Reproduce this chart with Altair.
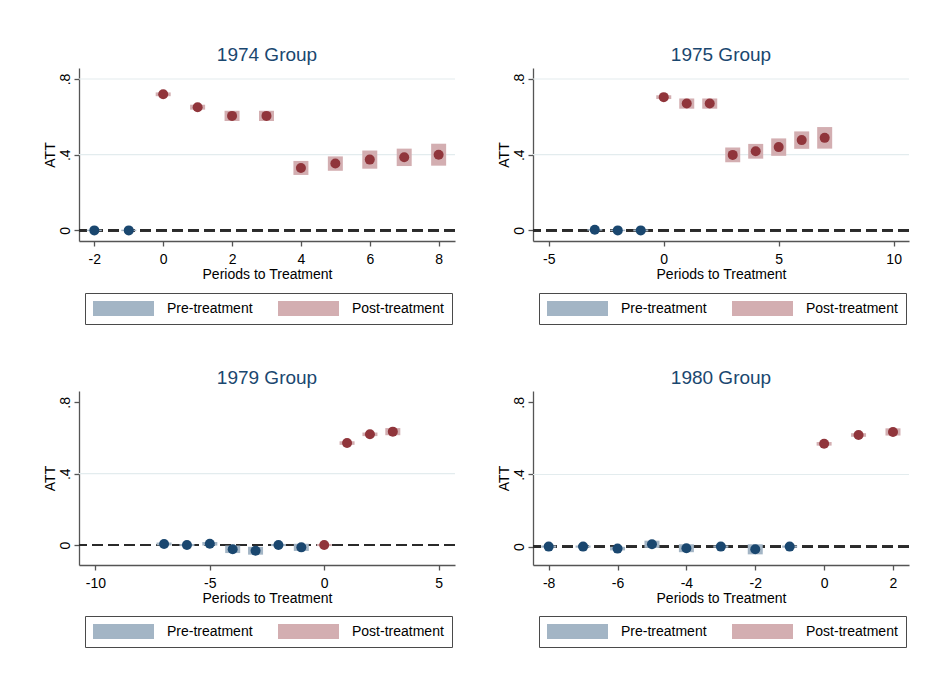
import altair as alt
import pandas as pd

# Event-study estimates (ATT by periods relative to treatment) for each cohort
g1974_period = [-2, -1, 0, 1, 2, 3, 4, 5, 6, 7, 8]
g1974_att = [0.0, 0.0, 0.719, 0.651, 0.605, 0.605, 0.330, 0.353, 0.374, 0.386, 0.400]
g1974_ci = [0.004, 0.004, 0.010, 0.013, 0.027, 0.027, 0.037, 0.038, 0.048, 0.046, 0.058]

g1975_period = [-3, -2, -1, 0, 1, 2, 3, 4, 5, 6, 7]
g1975_att = [0.003, 0.0, 0.0, 0.704, 0.670, 0.670, 0.399, 0.418, 0.440, 0.477, 0.489]
g1975_ci = [0.004, 0.004, 0.005, 0.010, 0.027, 0.027, 0.039, 0.039, 0.046, 0.046, 0.057]

g1979_period = [-7, -6, -5, -4, -3, -2, -1, 0, 1, 2, 3]
g1979_att = [0.006, 0.0, 0.007, -0.024, -0.032, 0.0, -0.013, 0.0, 0.572, 0.621, 0.636]
g1979_ci = [0.008, 0.006, 0.010, 0.021, 0.022, 0.006, 0.020, 0.006, 0.010, 0.010, 0.020]

g1980_period = [-8, -7, -6, -5, -4, -3, -2, -1, 0, 1, 2]
g1980_att = [0.0, 0.0, -0.011, 0.013, -0.009, 0.0, -0.015, 0.0, 0.570, 0.619, 0.636]
g1980_ci = [0.006, 0.006, 0.010, 0.020, 0.022, 0.006, 0.028, 0.006, 0.010, 0.010, 0.020]

phases = ["Pre-treatment", "Post-treatment"]
point_colors = ["#1a476f", "#90353b"]
band_colors = ["#a3b5c5", "#d3aeb1"]

FONT = "Liberation Sans"


def panel(title, period, att, ci, x_domain, x_ticks, y_domain, grid_values, height):
    df = pd.DataFrame({"period": period, "att": att, "ci": ci})
    df["lo"] = df["att"] - df["ci"]
    df["hi"] = df["att"] + df["ci"]
    df["phase"] = ["Pre-treatment" if p < 0 else "Post-treatment" for p in period]

    x_scale = alt.Scale(domain=x_domain, nice=False, zero=False)
    y_scale = alt.Scale(domain=y_domain, nice=False, zero=False)
    x_axis = alt.Axis(values=x_ticks, title="Periods to Treatment", grid=False,
                      labelExpr="'' + datum.value", labelPadding=6, titlePadding=1)
    y_axis = alt.Axis(values=[0, 0.4, 0.8], title="ATT", grid=False,
                      labelAngle=270, labelAlign="center", labelBaseline="bottom",
                      labelPadding=2, titlePadding=1,
                      labelExpr="datum.value == 0 ? '0' : replace(format(datum.value, '.1f'), '0.', '.')")

    x = alt.X("period:Q", scale=x_scale, axis=x_axis)
    y = alt.Y("att:Q", scale=y_scale, axis=y_axis)

    grid = alt.Chart(pd.DataFrame({"g": grid_values})).mark_rule(
        color="#e3ecee", strokeWidth=1.2
    ).encode(y=alt.Y("g:Q", scale=y_scale, axis=y_axis))

    zero = alt.Chart(df).mark_rule(
        color="#2b2b2b", strokeWidth=1.6, strokeDash=[11, 5]
    ).encode(y=alt.datum(0))

    bands = alt.Chart(df).mark_bar(size=15).encode(
        x=x,
        y=alt.Y("lo:Q", scale=y_scale, axis=y_axis),
        y2="hi:Q",
        fill=alt.Fill(
            "phase:N",
            scale=alt.Scale(domain=phases, range=band_colors),
            legend=alt.Legend(
                title=None, orient="none", legendX=6, legendY=225,
                direction="horizontal", columns=2, columnPadding=25,
                symbolType="M-1,-0.25H1V0.25H-1Z", symbolSize=3721,
                symbolStrokeWidth=0, clipHeight=15, labelOffset=13,
                padding=8, strokeColor="#4a4a4a", cornerRadius=0,
                labelFontSize=14, labelFont=FONT, labelColor="#000000",
                labelLimit=200,
            ),
        ),
    )

    points = alt.Chart(df).mark_circle(size=100, opacity=1).encode(
        x=x,
        y=y,
        color=alt.Color("phase:N", scale=alt.Scale(domain=phases, range=point_colors), legend=None),
    )

    return alt.layer(grid, zero, bands, points).properties(
        width=376,
        height=height,
        title=alt.TitleParams(title, fontSize=19, font=FONT, color="#1a476f",
                              fontWeight="normal", offset=3),
    )


p1 = panel("1974 Group", g1974_period, g1974_att, g1974_ci,
           [-2.3, 8.33], [-2, 0, 2, 4, 6, 8], [-0.056, 0.858], [0.4, 0.8], 173)
p2 = panel("1975 Group", g1975_period, g1975_att, g1975_ci,
           [-5.47, 10.45], [-5, 0, 5, 10], [-0.056, 0.858], [0.4, 0.8], 173)
p3 = panel("1979 Group", g1979_period, g1979_att, g1979_ci,
           [-10.5, 5.5], [-10, -5, 0, 5], [-0.112, 0.864], [0.4], 174)
p4 = panel("1980 Group", g1980_period, g1980_att, g1980_ci,
           [-8.31, 2.32], [-8, -6, -4, -2, 0, 2], [-0.102, 0.863], [0.4], 174)


def row(a, b):
    return alt.hconcat(a, b, spacing=41).resolve_scale(
        fill="independent", color="independent"
    ).resolve_legend(fill="independent", color="independent")


chart = alt.vconcat(row(p1, p2), row(p3, p4), spacing=44).resolve_scale(
    fill="independent", color="independent"
).resolve_legend(
    fill="independent", color="independent"
).configure(
    font=FONT,
    background="white",
    padding={"left": 43, "top": 46, "right": 0, "bottom": 0},
).configure_view(
    stroke=None
).configure_axis(
    domainColor="#555555",
    domainWidth=1.3,
    tickColor="#555555",
    tickWidth=1.3,
    tickSize=5,
    labelFontSize=14,
    labelFont=FONT,
    labelColor="#000000",
    titleFontSize=14,
    titleFont=FONT,
    titleFontWeight="normal",
    titleColor="#000000",
)

chart.save("out.html", embed_options={"renderer": "svg", "actions": False})
